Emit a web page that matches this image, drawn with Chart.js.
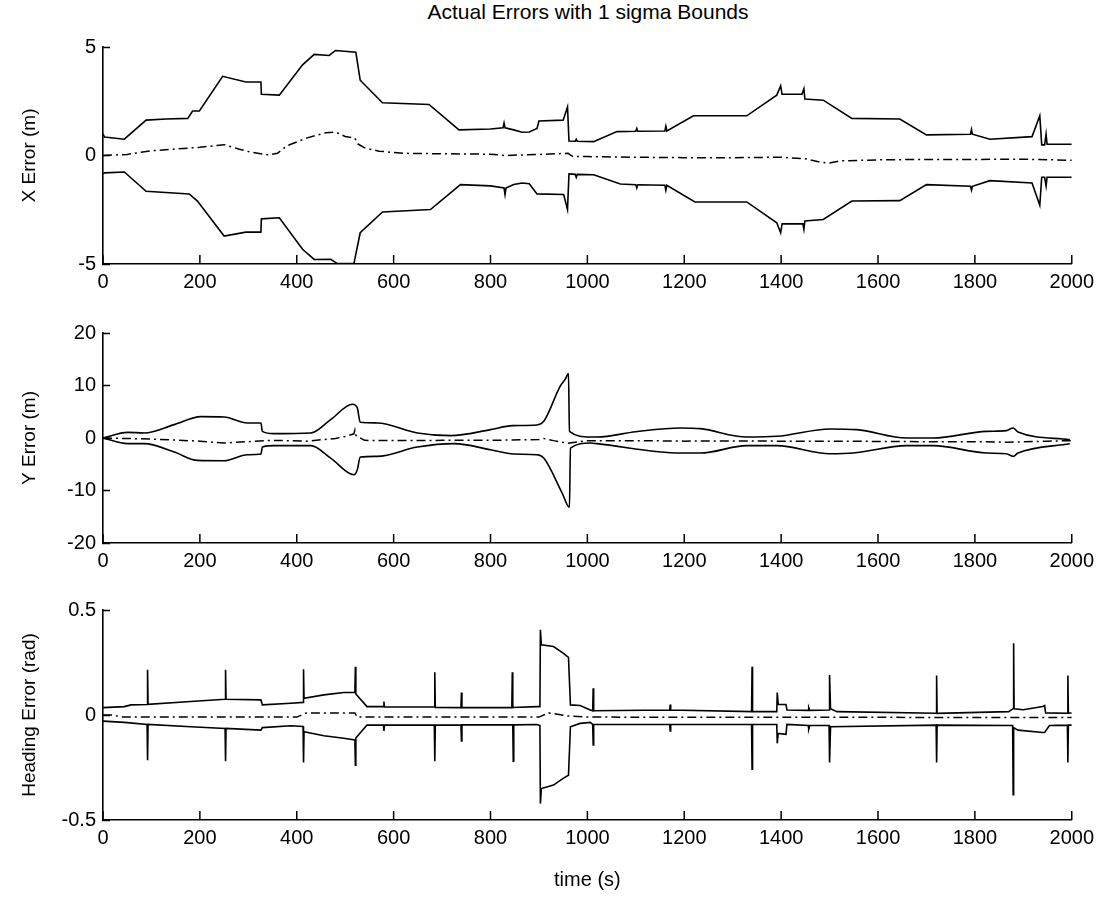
<!DOCTYPE html>
<html>
<head>
<meta charset="utf-8">
<script src="https://cdn.jsdelivr.net/npm/chart.js@4.4.1/dist/chart.umd.min.js"></script>
<style>
  html, body { margin: 0; padding: 0; background: #fff; }
  #wrap { position: relative; width: 1100px; height: 898px; overflow: hidden; background: #fff; }
  canvas { position: absolute; left: 0; }
  #title { position: absolute; top: 0px; left: 0; width: 1176px; text-align: center;
           font-family: "Liberation Sans", Arial, Helvetica, sans-serif; font-size: 21px; color: #000; }
</style>
</head>
<body>
<div id="wrap">
  <div id="title">Actual Errors with 1 sigma Bounds</div>
  <canvas id="c1" width="1100" height="300" style="top:0px"></canvas>
  <canvas id="c2" width="1100" height="280" style="top:300px"></canvas>
  <canvas id="c3" width="1100" height="318" style="top:580px"></canvas>
</div>
<script>
// ---------- data: [time (s), value] ----------
const timeTicks = [0, 200, 400, 600, 800, 1000, 1200, 1400, 1600, 1800, 2000];

// X error (m)
const xUpper = [[0,1.0],[3,0.85],[44,0.75],[89,1.63],[130,1.68],[175,1.71],[185,2.05],[199,2.05],[247,3.65],[295,3.39],[326,3.39],[327,2.82],[364,2.78],[412,4.18],[436,4.66],[467,4.61],[480,4.84],[522,4.76],[531,3.47],[577,2.43],[673,2.35],[735,1.18],[800,1.22],[826,1.28],[828,1.5],[830,1.28],[848,1.18],[865,1.07],[880,1.08],[896,1.25],[900,1.59],[950,1.63],[959,2.24],[962,0.67],[975,0.66],[977,0.75],[979,0.66],[1013,0.64],[1061,1.10],[1100,1.12],[1102,1.25],[1104,1.12],[1160,1.13],[1162,1.35],[1164,1.13],[1219,1.83],[1329,1.83],[1391,2.78],[1399,3.21],[1402,2.82],[1443,2.82],[1447,3.08],[1449,2.6],[1487,2.55],[1546,1.71],[1645,1.68],[1700,0.95],[1791,0.98],[1793,1.2],[1795,0.98],[1831,0.75],[1918,0.87],[1934,1.83],[1938,0.49],[1944,0.49],[1947,0.98],[1949,0.52],[2000,0.52]];
const xLower = [[0,-0.85],[3,-0.8],[44,-0.76],[89,-1.65],[178,-1.77],[195,-2.1],[250,-3.71],[295,-3.53],[326,-3.53],[327,-2.92],[364,-2.87],[412,-4.32],[436,-4.79],[470,-4.78],[484,-4.98],[518,-4.98],[531,-3.56],[577,-2.6],[676,-2.49],[738,-1.34],[800,-1.4],[828,-1.5],[830,-1.8],[832,-1.5],[848,-1.34],[865,-1.27],[880,-1.3],[896,-1.77],[951,-1.80],[959,-2.49],[962,-0.85],[975,-0.87],[977,-1.0],[979,-0.87],[1013,-0.89],[1068,-1.31],[1100,-1.35],[1102,-1.5],[1104,-1.35],[1160,-1.37],[1162,-1.6],[1164,-1.37],[1222,-2.14],[1329,-2.14],[1391,-3.1],[1399,-3.56],[1402,-3.15],[1445,-3.15],[1447,-3.4],[1449,-3.02],[1487,-2.95],[1546,-2.1],[1645,-2.08],[1700,-1.34],[1791,-1.42],[1793,-1.6],[1795,-1.42],[1831,-1.16],[1918,-1.27],[1934,-2.29],[1938,-1.0],[1944,-1.0],[1947,-1.4],[1949,-1.0],[2000,-1.0]];
const xActual = [[0,0],[50,0.05],[100,0.22],[150,0.3],[200,0.38],[230,0.45],[250,0.5],[280,0.3],[300,0.18],[340,0.03],[360,0.1],[380,0.45],[420,0.8],[460,1.05],[480,1.08],[500,0.88],[520,0.8],[525,0.55],[540,0.35],[570,0.2],[620,0.1],[700,0.08],[800,0.06],[830,0.0],[900,0.05],[960,0.1],[970,-0.05],[1000,-0.05],[1100,-0.08],[1200,-0.1],[1300,-0.1],[1400,-0.08],[1450,-0.15],[1480,-0.3],[1500,-0.35],[1520,-0.25],[1600,-0.2],[1700,-0.18],[1800,-0.18],[1900,-0.17],[2000,-0.22]];

// Y error (m)
const yUpper = [[0,0],[51,1.08],[85,0.96],[147,2.55],[202,4.08],[250,4.01],[298,2.87],[326,2.87],[329,1.27],[353,0.83],[429,0.96],[470,3.5],[515,6.43],[525,5.73],[531,3.0],[566,2.87],[649,0.96],[718,0.45],[800,1.6],[845,2.36],[896,2.48],[910,3.18],[944,9.87],[955,11.3],[961,12.3],[963,1.27],[1006,0.19],[1020,0.19],[1100,1.2],[1192,1.91],[1233,1.78],[1329,0.19],[1391,0.32],[1501,1.72],[1556,1.59],[1659,0],[1714,0],[1824,1.27],[1865,1.4],[1879,1.91],[1889,1.15],[1996,-0.32]];
const yLower = [[0,0],[51,-1.08],[85,-1.08],[147,-2.68],[195,-4.27],[250,-4.33],[298,-3.18],[326,-3.06],[329,-1.72],[353,-1.46],[429,-1.46],[470,-3.82],[518,-7.0],[525,-6.05],[531,-3.63],[566,-3.5],[649,-1.72],[725,-1.08],[800,-2.23],[848,-3.06],[896,-3.18],[910,-3.82],[948,-10.5],[963,-13.2],[965,-1.91],[1006,-0.96],[1020,-1.08],[1192,-2.87],[1233,-2.87],[1329,-1.46],[1391,-1.46],[1501,-3.0],[1549,-2.87],[1659,-1.46],[1714,-1.46],[1824,-2.87],[1865,-3.0],[1879,-3.5],[1889,-2.87],[1996,-1.08]];
const yActual = [[0,0],[100,-0.2],[200,-0.6],[250,-0.95],[300,-0.7],[350,-0.45],[420,-0.6],[480,-0.1],[500,0.3],[518,0.8],[520,1.5],[522,0.5],[540,-0.45],[600,-0.5],[700,-0.45],[800,-0.45],[900,-0.3],[910,-0.1],[930,-0.5],[960,-1.0],[1000,-0.5],[1100,-0.5],[1200,-0.6],[1300,-0.55],[1400,-0.6],[1500,-0.6],[1600,-0.65],[1700,-0.7],[1800,-0.7],[1870,-0.8],[1950,-0.6],[2000,-0.5]];

// Heading error (rad)
const hUpper = [[0,0.035],[44,0.04],[58,0.048],[91,0.05],[92,0.215],[93,0.051],[181,0.064],[252,0.075],[253,0.215],[254,0.075],[326,0.072],[329,0.048],[388,0.056],[413,0.06],[414,0.218],[415,0.08],[456,0.096],[497,0.107],[520,0.107],[521,0.23],[522,0.1],[545,0.04],[579,0.04],[580,0.064],[581,0.038],[684,0.038],[685,0.204],[686,0.036],[739,0.035],[740,0.107],[741,0.035],[844,0.035],[845,0.204],[846,0.036],[896,0.04],[902,0.04],[903,0.406],[905,0.334],[930,0.326],[950,0.295],[961,0.274],[965,0.048],[985,0.045],[1006,0.024],[1011,0.02],[1012,0.127],[1013,0.02],[1170,0.024],[1171,0.05],[1172,0.024],[1339,0.016],[1340,0.23],[1341,0.016],[1391,0.016],[1392,0.107],[1394,0.051],[1410,0.05],[1412,0.024],[1456,0.022],[1457,0.035],[1459,0.022],[1499,0.024],[1500,0.19],[1502,0.03],[1515,0.016],[1720,0.008],[1721,0.188],[1722,0.008],[1870,0.016],[1879,0.03],[1880,0.342],[1881,0.03],[1900,0.025],[1940,0.04],[1944,0.045],[1946,0.01],[1991,0.008],[1992,0.188],[1993,0.01],[2000,0.008]];
const hLower = [[0,-0.029],[44,-0.035],[91,-0.045],[92,-0.215],[93,-0.045],[181,-0.056],[252,-0.064],[253,-0.22],[254,-0.064],[326,-0.072],[329,-0.06],[388,-0.051],[413,-0.055],[414,-0.226],[415,-0.08],[456,-0.099],[497,-0.111],[520,-0.119],[521,-0.239],[522,-0.11],[545,-0.048],[579,-0.048],[580,-0.076],[581,-0.048],[684,-0.048],[685,-0.22],[686,-0.048],[739,-0.047],[740,-0.124],[741,-0.047],[846,-0.047],[847,-0.22],[848,-0.047],[896,-0.045],[902,-0.05],[903,-0.422],[905,-0.35],[930,-0.334],[950,-0.302],[961,-0.287],[965,-0.056],[985,-0.04],[1006,-0.035],[1011,-0.045],[1012,-0.143],[1013,-0.045],[1170,-0.045],[1171,-0.076],[1172,-0.045],[1339,-0.045],[1340,-0.258],[1341,-0.045],[1391,-0.045],[1392,-0.135],[1394,-0.088],[1410,-0.092],[1412,-0.045],[1456,-0.05],[1457,-0.067],[1459,-0.05],[1499,-0.05],[1500,-0.226],[1502,-0.056],[1720,-0.048],[1721,-0.226],[1722,-0.048],[1878,-0.05],[1879,-0.379],[1880,-0.06],[1889,-0.072],[1940,-0.083],[1944,-0.083],[1954,-0.05],[1991,-0.048],[1992,-0.226],[1993,-0.048],[2000,-0.048]];
const hActual = [[0,0],[20,0],[40,-0.01],[400,-0.01],[420,0.01],[520,0.01],[525,-0.01],[900,-0.01],[920,0.01],[960,-0.005],[1000,-0.01],[2000,-0.012]];

const xTicksVals = [-5, 0, 5];
const yTicksVals = [-20, -10, 0, 10, 20];
const hTicksVals = [-0.5, 0, 0.5];

// ---------- chart helpers ----------
const FONT = '"Liberation Sans", Arial, Helvetica, sans-serif';
const toPts = arr => arr.map(p => ({ x: p[0], y: p[1] }));

function boundDS(arr, smooth) {
  return { data: toPts(arr), borderColor: '#000', borderWidth: 1.6, pointRadius: 0,
           fill: false, tension: 0, cubicInterpolationMode: smooth ? 'monotone' : 'default' };
}
function actualDS(arr) {
  return { data: toPts(arr), borderColor: '#000', borderWidth: 1.5, pointRadius: 0,
           fill: false, tension: 0, borderDash: [9, 4, 2, 4] };
}

// x tick marks pointing up into the plot, placed by the chart's own x scale
const inwardXTicks = {
  id: 'inwardXTicks',
  afterDatasetsDraw(chart) {
    const ctx = chart.ctx;
    const area = chart.chartArea;
    const xs = chart.scales.x;
    ctx.save();
    ctx.setLineDash([]);
    ctx.strokeStyle = '#000';
    ctx.lineWidth = 1.5;
    for (const t of xs.ticks) {
      const px = xs.getPixelForValue(t.value);
      ctx.beginPath();
      ctx.moveTo(px, area.bottom);
      ctx.lineTo(px, area.bottom - 9);
      ctx.stroke();
    }
    ctx.restore();
  }
};

function makeChart(id, o) {
  const xTitle = o.xTitle ? { display: true, text: o.xTitle, color: '#000',
      font: { family: FONT, size: 20 }, padding: { top: 0, bottom: 6 } } : { display: false };
  return new Chart(document.getElementById(id), {
    type: 'line',
    data: { datasets: o.datasets },
    plugins: [inwardXTicks],
    options: {
      responsive: false, animation: false, devicePixelRatio: 1,
      layout: { padding: { top: o.padTop, right: 28, left: 0, bottom: 0 } },
      plugins: { legend: { display: false }, tooltip: { enabled: false }, title: { display: false } },
      scales: {
        x: {
          type: 'linear', min: 0, max: 2000,
          afterBuildTicks: s => { s.ticks = timeTicks.map(v => ({ value: v })); },
          ticks: { color: '#000', font: { family: FONT, size: 20 }, padding: 6, maxRotation: 0, autoSkip: false,
                   callback: v => String(v) },
          grid: { display: false, drawTicks: false },
          border: { display: true, color: '#000', width: 1.6 },
          title: xTitle,
          afterFit: s => { s.height = o.xHeight; }
        },
        y: {
          min: o.yMin, max: o.yMax,
          afterBuildTicks: s => { s.ticks = o.yTicks.map(v => ({ value: v })); },
          ticks: { color: '#000', font: { family: FONT, size: 20 }, padding: 14, callback: v => String(v) },
          grid: { display: true, drawOnChartArea: false, drawTicks: true, tickLength: -7,
                  tickColor: '#000', tickWidth: 1.5 },
          border: { display: true, color: '#000', width: 1.6 },
          title: { display: true, text: o.yTitle, color: '#000', font: { family: FONT, size: 19 },
                   padding: { top: 18, bottom: 0 } },
          afterFit: s => { s.width = 103; }
        }
      }
    }
  });
}

makeChart('c1', { padTop: 47, xHeight: 36, yMin: -5, yMax: 5, yTicks: xTicksVals, yTitle: 'X Error (m)',
  datasets: [boundDS(xUpper), boundDS(xLower), actualDS(xActual)] });
makeChart('c2', { padTop: 33, xHeight: 37, yMin: -20, yMax: 20, yTicks: yTicksVals, yTitle: 'Y Error (m)',
  datasets: [boundDS(yUpper, true), boundDS(yLower, true), actualDS(yActual)] });
makeChart('c3', { padTop: 30, xHeight: 78, yMin: -0.5, yMax: 0.5, yTicks: hTicksVals, yTitle: 'Heading Error (rad)',
  xTitle: 'time (s)',
  datasets: [boundDS(hUpper), boundDS(hLower), actualDS(hActual)] });
</script>
</body>
</html>
